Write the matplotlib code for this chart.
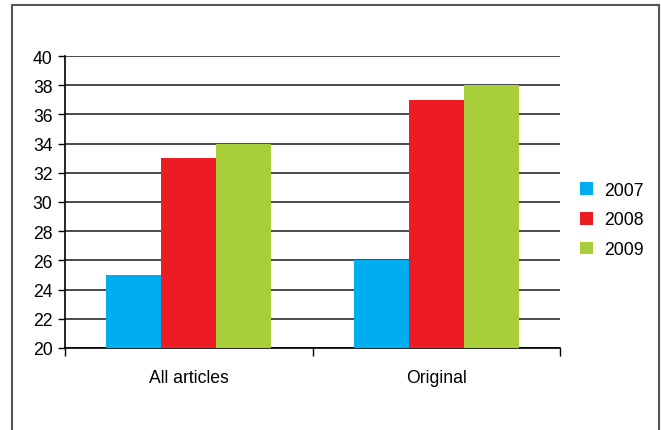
import matplotlib
matplotlib.use("Agg")
import matplotlib.pyplot as plt
import numpy as np
from matplotlib.patches import Rectangle

categories = ["All articles", "Original"]
years = ["2007", "2008", "2009"]
values_2007 = [25, 26]
values_2008 = [33, 37]
values_2009 = [34, 38]
yticks = [20, 22, 24, 26, 28, 30, 32, 34, 36, 38, 40]

colors = ["#00AEEF", "#ED1C24", "#A8CF3A"]

plt.rcParams['font.family'] = ['Liberation Sans', 'DejaVu Sans']
FS = 12.7

fig = plt.figure(figsize=(6.61, 4.31), dpi=100)
ax = fig.add_axes([65/661, (431-349)/431, (560-65)/661, (349-57)/431])

x = np.arange(len(categories))
w = 1/4.5
series = [values_2007, values_2008, values_2009]
for i, (vals, c, lab) in enumerate(zip(series, colors, years)):
    ax.bar(x + (i-1)*w, np.array(vals) - 20, bottom=20, width=w, color=c, label=lab, zorder=3)

ax.set_xlim(-0.5, 1.5)
ax.set_ylim(20, 40)
ax.set_yticks(yticks)
ax.set_yticklabels([str(t) for t in yticks], fontsize=FS)
ax.yaxis.grid(True, color="#3a3a3a", linewidth=1.3, zorder=1)
ax.set_axisbelow(True)

ax.set_xticks(x)
ax.set_xticklabels(categories, fontsize=FS)
ax.tick_params(axis='x', which='major', length=0, pad=15)
ax.set_xticks([-0.5, 0.5, 1.5], minor=True)
ax.tick_params(axis='x', which='minor', length=6, width=1, color="black", direction='out')
ax.tick_params(axis='y', length=5, width=1, direction='out', pad=4)

for s in ["top", "right"]:
    ax.spines[s].set_visible(False)
ax.spines["left"].set_linewidth(1.2)
ax.spines["bottom"].set_linewidth(1.2)

leg = fig.legend(loc="center left", bbox_to_anchor=(564/661, 1 - 221/431), frameon=False,
                 fontsize=FS, handlelength=0.74, handleheight=0.74, handletextpad=0.62,
                 labelspacing=0.72)

fig.patches.append(Rectangle((12/661, -0.1), (659-12)/661, 1.1 - 6/431, transform=fig.transFigure,
                             fill=False, edgecolor="#555555", linewidth=1.5, figure=fig))

fig.savefig("out.png", dpi=100)
